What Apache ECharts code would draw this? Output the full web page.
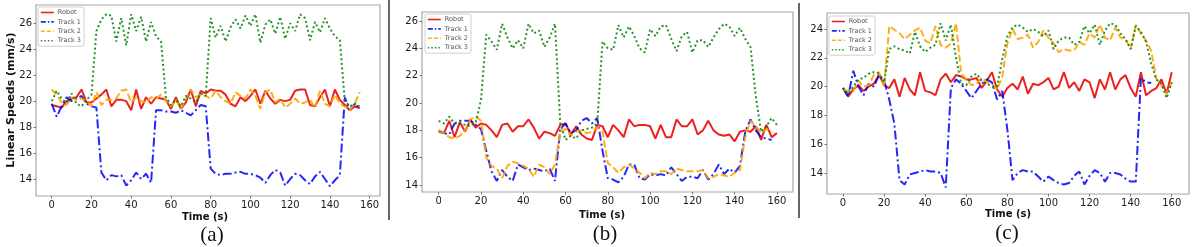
<!DOCTYPE html>
<html><head><meta charset="utf-8">
<script src="https://cdn.jsdelivr.net/npm/echarts@6/dist/echarts.min.js"></script>
<style>html,body{margin:0;padding:0;background:#fff}#c{width:1193px;height:247px}</style>
</head><body><div id="c"></div>
<script>
// ---- time bases (s) ----
const timeA = [0,2.5,5,7.5,10,12.5,15,17.5,20,22.5,25,27.5,30,32.5,35,37.5,40,42.5,45,47.5,50,52.5,55,57.5,60,62.5,65,67.5,70,72.5,75,77.5,80,82.5,85,87.5,90,92.5,95,97.5,100,102.5,105,107.5,110,112.5,115,117.5,120,122.5,125,127.5,130,132.5,135,137.5,140,142.5,145,147.5,150,152.5,155];
const timeBC = [0,2.5,5,7.5,10,12.5,15,17.5,20,22.5,25,27.5,30,32.5,35,37.5,40,42.5,45,47.5,50,52.5,55,57.5,60,62.5,65,67.5,70,72.5,75,77.5,80,82.5,85,87.5,90,92.5,95,97.5,100,102.5,105,107.5,110,112.5,115,117.5,120,122.5,125,127.5,130,132.5,135,137.5,140,142.5,145,147.5,150,152.5,155,157.5,160];

// ---- panel (a) ----
const robotA = [19.7,19.6,19.5,20.0,20.2,20.3,20.9,19.9,19.9,20.2, 20.5,20.9,19.6,20.1,20.1,20.0,19.3,20.9,19.4,20.3, 19.8,20.3,20.2,20.1,19.4,20.3,19.4,19.9,20.9,19.6, 20.8,20.6,20.9,20.8,20.8,20.5,19.8,19.6,20.3,20.0, 20.4,20.9,19.8,20.8,20.2,19.8,20.1,20.0,20.1,20.8, 20.9,20.9,19.7,19.6,20.3,20.9,19.6,20.9,20.1,19.7, 19.3,19.6,19.45];
const track1A = [19.8,18.8,19.6,20.3,20.0,20.2,20.4,19.8,19.6,19.5, 14.5,13.9,14.3,14.2,14.3,13.5,13.9,14.5,14.0,14.4, 13.7,19.3,19.3,19.2,19.2,19.1,19.3,19.1,18.9,19.3, 19.7,19.6,14.8,14.4,14.3,14.4,14.4,14.5,14.55,14.4, 14.4,14.3,14.1,13.7,14.3,14.7,14.5,13.5,14.0,14.4, 14.3,13.9,13.6,14.2,14.55,14.0,13.45,13.9,14.3,20.3, 19.3,19.8,19.4];
const track2A = [20.9,20.5,19.9,19.7,20.3,20.1,20.2,20.0,19.6,20.7, 19.7,20.1,20.1,20.2,20.8,20.9,19.9,20.3,20.0,19.9, 20.3,20.2,20.5,20.1,19.6,20.1,19.4,20.2,20.9,20.3, 20.5,20.4,20.2,20.8,20.3,20.0,19.8,20.7,20.4,20.2, 20.9,20.4,19.4,20.7,20.9,19.9,20.2,19.5,19.8,20.2, 19.8,19.9,20.1,19.5,20.8,19.8,19.6,20.5,19.8,19.6, 19.3,19.8,20.7];
const track3A = [20.0,20.8,20.2,19.9,20.6,19.8,19.6,20.1,20.5,25.4, 26.3,26.7,26.6,24.6,26.4,24.3,26.7,25.4,26.5,24.6, 26.1,25.0,24.6,20.3,19.7,20.1,19.6,20.4,20.2,19.9, 20.6,20.4,26.4,24.9,25.8,24.6,25.7,26.3,25.6,26.6, 25.8,26.7,24.5,25.9,26.3,25.2,26.5,24.8,26.0,25.4, 26.7,26.4,24.7,26.1,25.3,26.4,25.6,25.0,24.7,20.0, 19.6,19.8,19.6];

// ---- panel (b) ----
const robotB = [17.9,17.8,18.7,17.5,18.6,17.9,18.8,18.2,18.5,18.4, 18.0,17.5,18.4,18.5,17.9,18.3,18.3,18.8,18.2,17.4, 17.9,17.8,17.6,18.4,18.5,17.7,18.3,17.7,17.4,17.3, 18.4,18.3,17.5,18.4,18.0,17.5,18.8,18.3,18.4,18.4, 18.3,17.4,18.4,17.5,17.5,18.8,18.3,18.3,18.8,17.7, 18.0,18.7,18.0,17.7,17.6,17.7,17.2,17.9,18.0,17.9, 18.3,17.3,18.4,17.5,17.8];
const track1B = [18.0,17.8,17.7,18.5,18.7,18.7,18.7,18.4,18.1,16.5, 15.0,14.3,15.1,14.6,14.3,15.5,15.3,15.1,15.2,15.1, 15.0,15.2,14.3,18.1,18.5,17.8,18.0,18.7,18.9,18.5, 18.9,16.5,14.5,14.4,14.2,14.6,15.5,15.5,14.5,14.4, 14.8,14.7,14.8,14.7,15.3,14.8,14.3,14.6,14.6,14.5, 15.1,14.4,14.8,15.5,14.8,15.2,14.9,15.4,17.9,18.8, 18.0,17.5,17.4,17.3,null];
const track2B = [18.0,17.8,17.5,17.4,17.6,18.0,18.8,19.0,18.7,16.0, 15.4,15.2,14.5,15.4,15.7,15.6,15.4,15.2,14.6,15.5, 15.3,14.8,15.5,17.9,18.1,17.6,17.9,18.0,17.8,17.9, 18.2,17.9,15.6,15.3,14.9,15.3,15.5,15.2,14.9,14.5, 14.9,14.8,15.0,15.0,14.8,15.2,15.1,15.0,15.0,15.0, 15.1,14.5,14.6,14.8,14.7,14.6,14.9,15.1,17.5,18.7, 18.3,17.8,18.1,17.9,null];
const track3B = [18.7,18.5,19.0,18.5,18.5,18.4,18.3,18.6,20.2,25.0, 24.5,23.9,25.8,24.8,24.0,24.6,24.0,25.8,25.1,25.3, 24.1,24.8,25.8,18.5,17.3,17.6,17.4,18.0,18.1,18.2, 18.5,24.5,24.0,23.9,25.7,24.8,25.6,24.9,24.0,23.7, 25.4,24.9,25.6,25.7,24.7,23.8,24.9,25.2,23.7,24.6, 24.6,24.1,24.8,25.4,25.8,25.6,24.9,25.5,24.7,24.1, 20.5,17.9,18.3,18.9,18.4];

// ---- panel (c) ----
const robotC = [19.9,19.3,19.8,20.1,19.7,20.0,20.2,20.8,20.1,19.9, 20.5,19.3,20.6,19.8,19.4,21.0,19.7,19.6,19.4,20.5, 20.9,20.3,20.8,20.7,20.5,20.5,20.6,19.9,20.4,21.0, 19.8,19.3,19.9,20.2,19.8,20.7,19.5,20.2,20.1,20.3, 20.6,19.8,20.0,21.0,19.9,20.3,19.7,20.5,20.3,19.2, 20.5,19.8,21.0,19.8,20.5,20.8,19.9,19.3,21.0,19.4, 19.7,19.9,20.5,19.5,21.0];
const track1C = [19.9,19.3,21.1,20.0,19.4,20.2,20.0,20.8,20.4,19.1, 17.4,13.5,13.2,13.9,14.0,14.1,14.2,14.1,14.1,14.0, 13.0,19.9,20.5,20.2,19.7,19.2,19.7,20.2,20.5,20.3, 19.1,19.7,17.0,13.5,14.0,14.2,14.1,14.1,13.75,13.4, 13.75,13.5,13.3,13.2,13.3,13.8,14.1,13.2,13.8,14.2, 14.0,13.4,14.0,14.0,13.9,13.6,13.4,13.4,20.6,20.3, 20.25,null,null,null,null];
const track2C = [19.8,19.7,19.7,20.4,20.0,20.1,20.8,21.0,20.0,24.2, 23.95,23.7,23.3,23.6,23.9,24.1,23.2,23.0,24.2,22.9, 22.7,23.0,24.4,20.9,20.5,20.1,20.2,20.6,20.3,20.2, 19.8,20.7,23.0,24.0,23.3,23.4,23.6,22.7,23.1,23.9, 23.4,23.0,22.4,22.6,22.5,22.5,23.1,22.9,23.7,23.4, 24.3,23.4,23.2,24.1,23.4,23.3,22.6,24.3,23.7,23.2, 22.5,20.5,20.1,19.5,20.3];
const track3C = [19.9,19.5,20.0,20.5,20.6,20.9,21.0,20.9,20.3,22.6, 22.8,22.6,22.5,22.3,23.8,22.8,22.4,22.7,22.9,24.4, 23.2,24.3,22.0,20.2,20.1,20.7,20.9,20.4,20.2,20.0, 20.0,21.9,23.5,24.1,24.3,24.1,23.8,24.0,23.8,23.5, 23.9,22.6,23.2,23.4,23.4,22.9,23.1,24.2,23.7,24.3, 22.9,23.9,24.4,24.3,23.7,23.3,22.6,24.2,23.8,23.1, 21.6,20.5,20.2,19.2,20.3];

// ---- labels / ticks ----
const seriesNames = ['Robot','Track 1','Track 2','Track 3'];
const xTicks = [0,20,40,60,80,100,120,140,160];
const yTicksAB = [14,16,18,20,22,24,26];
const yTicksC = [14,16,18,20,22,24];
const panelLabels = ['(a)','(b)','(c)'];
const xTitle = 'Time (s)';
const yTitle = 'Linear Speeds (mm/s)';

const colors = ['rgba(235,0,0,0.88)','rgba(0,0,245,0.85)','rgba(255,165,0,0.9)','rgba(0,128,0,0.85)'];
const dashes = ['solid',[9,3,2,3],[7,3],[2,2.6]];
const legendDashes = ['solid',[5,2,1.5,2],[4,2],[1.5,2]];

const panels = [
  {t: timeA, d:[robotA,track1A,track2A,track3A], grid:{left:36,top:5,width:344,height:191}, x:[-7.9,165.2], y:[12.69,27.41], yt:yTicksAB,
   legend:{left:38,top:7}},
  {t: timeBC, d:[robotB,track1B,track2B,track3B], grid:{left:422,top:12,width:371,height:180}, x:[-7.9,167.6], y:[13.49,26.66], yt:yTicksAB,
   legend:{left:425,top:14}},
  {t: timeBC, d:[robotC,track1C,track2C,track3C], grid:{left:827,top:13,width:362,height:181}, x:[-7.8,168.4], y:[12.54,25.11], yt:yTicksC,
   legend:{left:829,top:16}}
];

const fontTick = {fontFamily:'DejaVu Sans', fontSize:10, color:'#1a1a1a'};
const grids=[], xAxes=[], yAxes=[], series=[], legends=[];
panels.forEach((p,pi)=>{
  grids.push(Object.assign({show:true, borderColor:'#a8a8a8', borderWidth:1.2, backgroundColor:'#fff'}, p.grid));
  xAxes.push({type:'value', gridIndex:pi, min:p.x[0], max:p.x[1], position:'bottom',
    axisLine:{show:false, onZero:false}, splitLine:{show:false},
    axisTick:{show:true, length:2.5, lineStyle:{color:'#777'}, customValues:xTicks},
    axisLabel:Object.assign({margin:4, customValues:xTicks}, fontTick)});
  yAxes.push({type:'value', gridIndex:pi, min:p.y[0], max:p.y[1], position:'left',
    axisLine:{show:false, onZero:false}, splitLine:{show:false},
    axisTick:{show:true, length:2.5, lineStyle:{color:'#777'}, customValues:p.yt},
    axisLabel:Object.assign({margin:4, customValues:p.yt}, fontTick)});
  p.d.forEach((arr,si)=>{
    series.push({type:'line', name:seriesNames[si], xAxisIndex:pi, yAxisIndex:pi,
      data:p.t.map((tv,k)=>[tv,arr[k]]), showSymbol:false, symbol:'none', connectNulls:false,
      lineStyle:{color:colors[si], width:2, type:dashes[si]}, itemStyle:{color:colors[si]},
      emphasis:{disabled:true}, animation:false});
  });
  legends.push({left:p.legend.left, top:p.legend.top, orient:'vertical',
    data:seriesNames.map((n,si)=>({name:n, itemStyle:{opacity:0}, lineStyle:{width:1.6, type:legendDashes[si], color:colors[si]}})),
    itemWidth:13, itemHeight:6, itemGap:2.4, padding:[2,3,2,2],
    backgroundColor:'#fff', borderColor:'#d0d0d0', borderWidth:1, borderRadius:2,
    textStyle:{fontFamily:'DejaVu Sans', fontSize:6.5, color:'#555', padding:[0,0,0,-1]}, selectedMode:false});
});

const graphics = [
  {type:'line', shape:{x1:389,y1:0,x2:389,y2:220}, style:{stroke:'#000',lineWidth:1.2}},
  {type:'line', shape:{x1:799,y1:3,x2:799,y2:218}, style:{stroke:'#000',lineWidth:1.2}},
  {type:'text', x:11, y:100, rotation:Math.PI/2, style:{text:yTitle, fill:'#111', font:'bold 11px "DejaVu Sans"', textAlign:'center', textVerticalAlign:'middle'}},
  {type:'text', x:205, y:217, style:{text:xTitle, fill:'#111', font:'bold 10px "DejaVu Sans"', textAlign:'center', textVerticalAlign:'middle'}},
  {type:'text', x:602, y:215, style:{text:xTitle, fill:'#111', font:'bold 10px "DejaVu Sans"', textAlign:'center', textVerticalAlign:'middle'}},
  {type:'text', x:1008, y:214, style:{text:xTitle, fill:'#111', font:'bold 10px "DejaVu Sans"', textAlign:'center', textVerticalAlign:'middle'}},
  {type:'text', x:212, y:235, style:{text:panelLabels[0], fill:'#111', font:'21px "Liberation Serif"', textAlign:'center', textVerticalAlign:'middle'}},
  {type:'text', x:605, y:234, style:{text:panelLabels[1], fill:'#111', font:'21px "Liberation Serif"', textAlign:'center', textVerticalAlign:'middle'}},
  {type:'text', x:1007, y:233, style:{text:panelLabels[2], fill:'#111', font:'21px "Liberation Serif"', textAlign:'center', textVerticalAlign:'middle'}}
];

const chart = echarts.init(document.getElementById('c'), null, {renderer:'canvas'});
chart.setOption({animation:false, backgroundColor:'#fff', grid:grids, xAxis:xAxes, yAxis:yAxes, series:series, legend:legends, graphic:graphics});
</script></body></html>
